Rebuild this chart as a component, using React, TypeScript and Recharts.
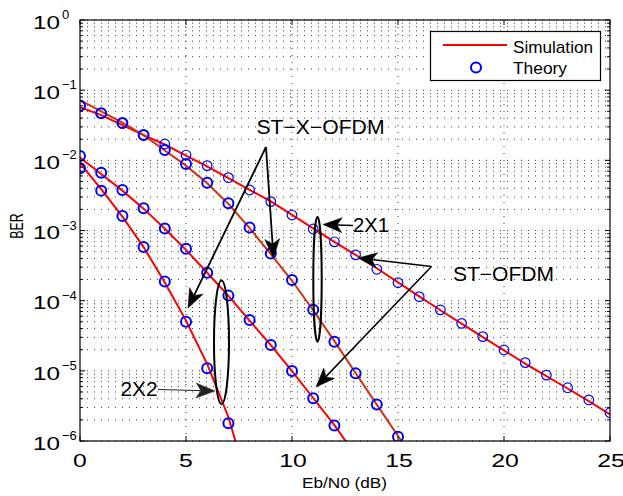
import React from 'react';
import { LineChart, Line, XAxis, YAxis, CartesianGrid } from 'recharts';

// ---------- data ----------
const snr2x1StOfdm = [0,1,2,3,4,5,6,7,8,9,10,11,12,13,14,15,16,17,18,19,20,21,22,23,24,25];
const berTheory2x1StOfdm = [0.0594,0.0468,0.0337,0.0229,0.0171,0.0119,0.0084,0.00566,0.00378,0.00258,0.00166,0.00105,0.00069,0.00045,0.00028,0.00018,0.000114,0.000074,0.0000475,0.0000307,0.0000198,0.0000131,0.0000087,0.00000575,0.00000385,0.00000253];
const berSim2x1StOfdm = [0.057,0.044,0.0318,0.0229,0.0168,0.0117,0.0082,0.0056,0.0038,0.0026,0.00167,0.00107,0.00069,0.00045,0.00029,0.000182,0.000115,0.000073,0.000047,0.0000302,0.0000196,0.0000127,0.0000084,0.0000056,0.0000037,0.0000024];

const snrTheory2x1StxOfdm = [0,1,2,3,4,5,6,7,8,9,10,11,12,13,14,15];
const berTheory2x1StxOfdm = [0.06,0.047,0.034,0.0229,0.014,0.00887,0.0048,0.00244,0.0011,0.00047,0.000197,0.000074,0.000026,0.0000092,0.0000033,0.00000115];
const snrSim2x1StxOfdm = [0,1,2,3,4,5,6,7,8,9,10,11,12,13,14,15,16];
const berSim2x1StxOfdm = [0.072,0.05,0.0345,0.0229,0.0138,0.0084,0.0047,0.0024,0.00108,0.00046,0.000192,0.000073,0.0000265,0.0000093,0.0000033,0.00000118,0.00000042];

const snrTheory2x2StOfdm = [0,1,2,3,4,5,6,7,8,9,10,11,12];
const berTheory2x2StOfdm = [0.0115,0.00667,0.00378,0.00207,0.00107,0.00055,0.00025,0.000118,0.000053,0.0000234,0.00000996,0.00000406,0.00000166];
const snrSim2x2StOfdm = [0,1,2,3,4,5,6,7,8,9,10,11,12,13];
const berSim2x2StOfdm = [0.011,0.0064,0.0037,0.00205,0.00106,0.00053,0.00025,0.000117,0.000052,0.0000232,0.0000099,0.0000041,0.00000168,0.00000063];

const snrTheory2x2StxOfdm = [0,1,2,3,4,5,6,7];
const berTheory2x2StxOfdm = [0.0077,0.0037,0.00161,0.00058,0.000187,0.00005,0.0000109,0.00000179];
const snrSim2x2StxOfdm = [0,1,2,3,4,5,6,7,8];
const berSim2x2StxOfdm = [0.0091,0.0039,0.00158,0.00058,0.000182,0.000052,0.0000125,0.0000022,0.0000002];

const xTicks = [0,5,10,15,20,25];
const xGrid = [5,10,15,20];
const yDecades = [-6,-5,-4,-3,-2,-1,0];
const yMinorMultipliers = [2,3,4,5,6,7,8,9];

const legendLabels = ['Simulation', 'Theory'];
const xLabel = 'Eb/N0 (dB)';
const yLabel = 'BER';

// ---------- helpers ----------
const pts = (xs: number[], ys: number[]) => xs.map((x, i) => ({ x, y: ys[i] }));

const yTicks: number[] = [];
yDecades.forEach((e) => {
  yTicks.push(Math.pow(10, e));
  if (e < 0) yMinorMultipliers.forEach((m) => yTicks.push(m * Math.pow(10, e)));
});
yTicks.sort((a, b) => a - b);

const FONT = '"Liberation Sans", Arial, Helvetica, sans-serif';
const PL = 80, PR = 610, PT = 20, PB = 441;
const W = 623, H = 496;

function XTick(props: any) {
  const { x, payload } = props;
  const label = String(payload.value);
  return (
    <g>
      <line x1={x} x2={x} y1={PB} y2={PB - 5} stroke="#000" strokeWidth={1} />
      <line x1={x} x2={x} y1={PT} y2={PT + 5} stroke="#000" strokeWidth={1} />
      <text x={x + (label.length > 1 ? 1 : 0)} y={466.5} textAnchor="middle" fontSize={18.5} fontFamily={FONT}
        textLength={label.length * 13.8} lengthAdjust="spacingAndGlyphs" fill="#000">{label}</text>
    </g>
  );
}

function YTick(props: any) {
  const { y, payload } = props;
  const v = payload.value as number;
  const lg = Math.log10(v);
  const e = Math.round(lg);
  const major = Math.abs(lg - e) < 1e-6;
  const len = major ? 5 : 3;
  return (
    <g>
      <line x1={PL} x2={PL + len} y1={y} y2={y} stroke="#000" strokeWidth={1} />
      <line x1={PR - len} x2={PR} y1={y} y2={y} stroke="#000" strokeWidth={1} />
      {major && (
        <g fontFamily={FONT} fill="#000">
          <text x={33} y={y + 8.7} fontSize={18} textLength={27} lengthAdjust="spacingAndGlyphs">10</text>
          <text x={62} y={y - 1} fontSize={13}>{e === 0 ? '0' : '\u2212' + String(-e)}</text>
        </g>
      )}
    </g>
  );
}

function Arrow({ x1, y1, x2, y2, w = 1.5, color = '#000', L = 19, hw = 7.5, notch = 5 }: any) {
  const dx = x2 - x1, dy = y2 - y1;
  const d = Math.sqrt(dx * dx + dy * dy);
  const ux = dx / d, uy = dy / d;
  const px = -uy, py = ux;
  const bx = x2 - L * ux, by = y2 - L * uy;
  const nx = x2 - (L - notch) * ux, ny = y2 - (L - notch) * uy;
  const poly = `${x2},${y2} ${bx + hw * px},${by + hw * py} ${nx},${ny} ${bx - hw * px},${by - hw * py}`;
  return (
    <g>
      <line x1={x1} y1={y1} x2={nx} y2={ny} stroke={color} strokeWidth={w} />
      <polygon points={poly} fill={color} stroke={color} strokeWidth={0.5} strokeLinejoin="miter" />
    </g>
  );
}

function Overlay() {
  return (
    <svg width={W} height={H} style={{ position: 'absolute', left: 0, top: 0, pointerEvents: 'none' }}>
      {/* axes box */}
      <rect x={PL} y={PT} width={PR - PL} height={PB - PT} fill="none" stroke="#000" strokeWidth={1.2} />

      {/* legend */}
      <rect x={430.5} y={31.5} width={170} height={49} fill="#fff" stroke="#000" strokeWidth={1.2} />
      <line x1={443} x2={507} y1={45} y2={45} stroke="#ff0000" strokeWidth={2} />
      <circle cx={476} cy={67.5} r={5} fill="none" stroke="#0000ff" strokeWidth={2} />
      <text x={513} y={52.5} fontSize={17} fontFamily={FONT} textLength={80} lengthAdjust="spacingAndGlyphs">{legendLabels[0]}</text>
      <text x={513} y={73.5} fontSize={17} fontFamily={FONT} textLength={54} lengthAdjust="spacingAndGlyphs">{legendLabels[1]}</text>

      {/* axis labels */}
      <text x={302} y={488} fontSize={15} fontFamily={FONT} textLength={85} lengthAdjust="spacingAndGlyphs">{xLabel}</text>
      <text transform="translate(22.5,226) rotate(-90)" textAnchor="middle" fontSize={18} fontFamily={FONT}
        textLength={25.5} lengthAdjust="spacingAndGlyphs">{yLabel}</text>

      {/* annotations */}
      <text x={256.5} y={134} fontSize={20} fontFamily={FONT} textLength={128} lengthAdjust="spacingAndGlyphs">ST{'\u2212'}X{'\u2212'}OFDM</text>
      <Arrow x1={266} y1={147} x2={188} y2={308} w={1.8} />
      <Arrow x1={266} y1={147} x2={273.5} y2={258} w={1.8} />

      <ellipse cx={317.5} cy={279.2} rx={4.2} ry={62.5} fill="none" stroke="#000" strokeWidth={2} />
      <text x={353} y={232} fontSize={20} fontFamily={FONT} textLength={36} lengthAdjust="spacingAndGlyphs">2X1</text>
      <Arrow x1={353} y1={225.5} x2={323} y2={224.5} w={1.5} />

      <text x={453} y={280.5} fontSize={20} fontFamily={FONT} textLength={101} lengthAdjust="spacingAndGlyphs">ST{'\u2212'}OFDM</text>
      <Arrow x1={431.5} y1={266.5} x2={358} y2={258} w={1.5} />
      <Arrow x1={431.5} y1={266.5} x2={316} y2={387} w={1.5} />

      <ellipse cx={221.5} cy={342.3} rx={7.5} ry={61.7} fill="none" stroke="#000" strokeWidth={2} />
      <text x={120.5} y={396} fontSize={20} fontFamily={FONT} textLength={37} lengthAdjust="spacingAndGlyphs">2X2</text>
      <Arrow x1={158} y1={389.5} x2={215} y2={391} w={1} color="#222" />
    </svg>
  );
}

export default function App() {
  const simStyle = (color: string) => ({ stroke: color, strokeWidth: 2, dot: false, activeDot: false, isAnimationActive: false, type: 'linear' as const });
  const thDot = (sw: number, r: number) => ({ r, stroke: '#0000ff', strokeWidth: sw, fill: 'none' });
  return (
    <div style={{ position: 'absolute', left: 0, top: 0, width: W, height: H, background: '#fff' }}>
      <LineChart width={W} height={H} margin={{ top: PT, right: W - PR, bottom: 0, left: 0 }}>
        <CartesianGrid stroke="#3a3a3a" strokeDasharray="1 6" strokeWidth={1}
          horizontalValues={yTicks} verticalValues={xGrid} />
        <XAxis dataKey="x" type="number" domain={[0, 25]} ticks={xTicks} interval={0} allowDataOverflow
          axisLine={false} tickLine={false} tickSize={0} height={H - PB} tick={<XTick />} />
        <YAxis type="number" scale="log" domain={[1e-6, 1]} ticks={yTicks} interval={0} allowDataOverflow
          axisLine={false} tickLine={false} tickSize={0} width={PL} tick={<YTick />} />

        <Line data={pts(snr2x1StOfdm, berSim2x1StOfdm)} dataKey="y" {...simStyle('#ff0000')} />
        <Line data={pts(snrSim2x1StxOfdm, berSim2x1StxOfdm)} dataKey="y" {...simStyle('#d2300f')} />
        <Line data={pts(snrSim2x2StOfdm, berSim2x2StOfdm)} dataKey="y" {...simStyle('#ff0000')} />
        <Line data={pts(snrSim2x2StxOfdm, berSim2x2StxOfdm)} dataKey="y" {...simStyle('#ff0000')} />

        <Line data={pts(snr2x1StOfdm, berTheory2x1StOfdm)} dataKey="y" stroke="none" dot={thDot(1.2, 4.8)} activeDot={false} isAnimationActive={false} />
        <Line data={pts(snrTheory2x1StxOfdm, berTheory2x1StxOfdm)} dataKey="y" stroke="none" dot={thDot(2, 5)} activeDot={false} isAnimationActive={false} />
        <Line data={pts(snrTheory2x2StOfdm, berTheory2x2StOfdm)} dataKey="y" stroke="none" dot={thDot(2, 5)} activeDot={false} isAnimationActive={false} />
        <Line data={pts(snrTheory2x2StxOfdm, berTheory2x2StxOfdm)} dataKey="y" stroke="none" dot={thDot(2, 5)} activeDot={false} isAnimationActive={false} />
      </LineChart>
      <Overlay />
    </div>
  );
}
